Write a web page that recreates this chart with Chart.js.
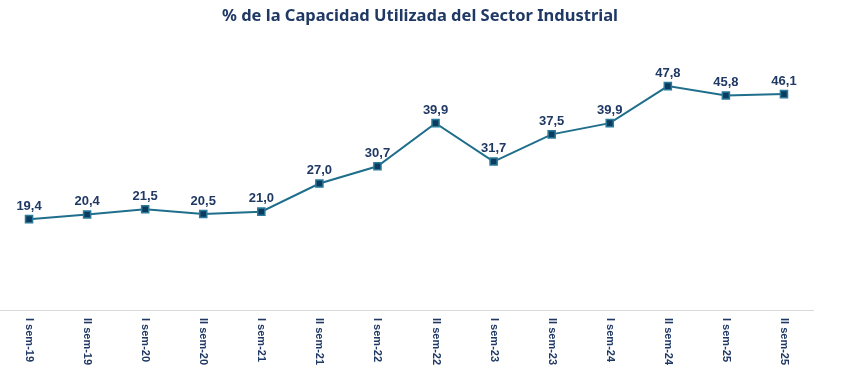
<!DOCTYPE html>
<html>
<head>
<meta charset="utf-8">
<script src="https://cdn.jsdelivr.net/npm/chart.js@4"></script>
<style>
html,body{margin:0;padding:0;background:#fff;}
#wrap{width:842px;height:370px;}
</style>
</head>
<body>
<div id="wrap"><canvas id="c" width="842" height="370"></canvas></div>
<script>
const titleText = "% de la Capacidad Utilizada del Sector Industrial";
const categories = ["I sem-19","II sem-19","I sem-20","II sem-20","I sem-21","II sem-21","I sem-22","II sem-22","I sem-23","II sem-23","I sem-24","II sem-24","I sem-25","II sem-25"];
const capacityValues = [19.4, 20.4, 21.5, 20.5, 21.0, 27.0, 30.7, 39.9, 31.7, 37.5, 39.9, 47.8, 45.8, 46.1];

const NAVY = "#1f3864";
const labelPlugin = {
  id: "customLabels",
  afterDraw(chart) {
    const ctx = chart.ctx;
    ctx.save();
    ctx.fillStyle = NAVY;
    ctx.font = "bold 16.5px 'Noto Sans', sans-serif";
    ctx.textAlign = "center";
    ctx.textBaseline = "middle";
    ctx.fillText(titleText, 420, 16);
    ctx.restore();
  },
  afterDatasetsDraw(chart) {
    const ctx = chart.ctx;
    const meta = chart.getDatasetMeta(0);
    ctx.save();
    ctx.fillStyle = NAVY;
    ctx.font = "bold 13px 'Liberation Sans', Arial, sans-serif";
    ctx.textAlign = "center";
    ctx.textBaseline = "middle";
    meta.data.forEach((pt, i) => {
      const v = chart.data.datasets[0].data[i];
      ctx.fillText(v.toFixed(1).replace(".", ","), pt.x, pt.y - 13);
    });
    // x tick labels, rotated clockwise
    const xs = chart.scales.x;
    ctx.font = "bold 11px 'Liberation Sans', Arial, sans-serif";
    ctx.textAlign = "left";
    chart.data.labels.forEach((lab, i) => {
      const x = xs.getPixelForTick(i);
      ctx.save();
      ctx.translate(x, chart.chartArea.bottom + 8);
      ctx.rotate(Math.PI / 2);
      ctx.fillText(lab, 0, 0);
      ctx.restore();
    });
    ctx.restore();
  }
};

new Chart(document.getElementById("c"), {
  type: "line",
  data: {
    labels: categories,
    datasets: [{
      data: capacityValues,
      borderColor: "#1f6e8c",
      borderWidth: 2,
      pointStyle: "rect",
      pointRadius: 5,
      pointHoverRadius: 5,
      pointBackgroundColor: "#0d3b5e",
      pointBorderColor: "#2a7a9a",
      pointBorderWidth: 1.5,
      tension: 0,
      clip: false
    }]
  },
  options: {
    responsive: false,
    animation: false,
    devicePixelRatio: 1,
    layout: { autoPadding: false, padding: { left: 0, right: 29, top: 29, bottom: 60 } },
    plugins: {
      legend: { display: false },
      tooltip: { enabled: false },
      title: { display: false }
    },
    scales: {
      x: {
        offset: true,
        grid: { display: false, drawTicks: false },
        border: { display: true, color: "#d9d9d9", width: 1 },
        ticks: { display: false }
      },
      y: {
        display: false,
        min: 0,
        max: 60
      }
    }
  },
  plugins: [labelPlugin]
});
</script>
</body>
</html>
